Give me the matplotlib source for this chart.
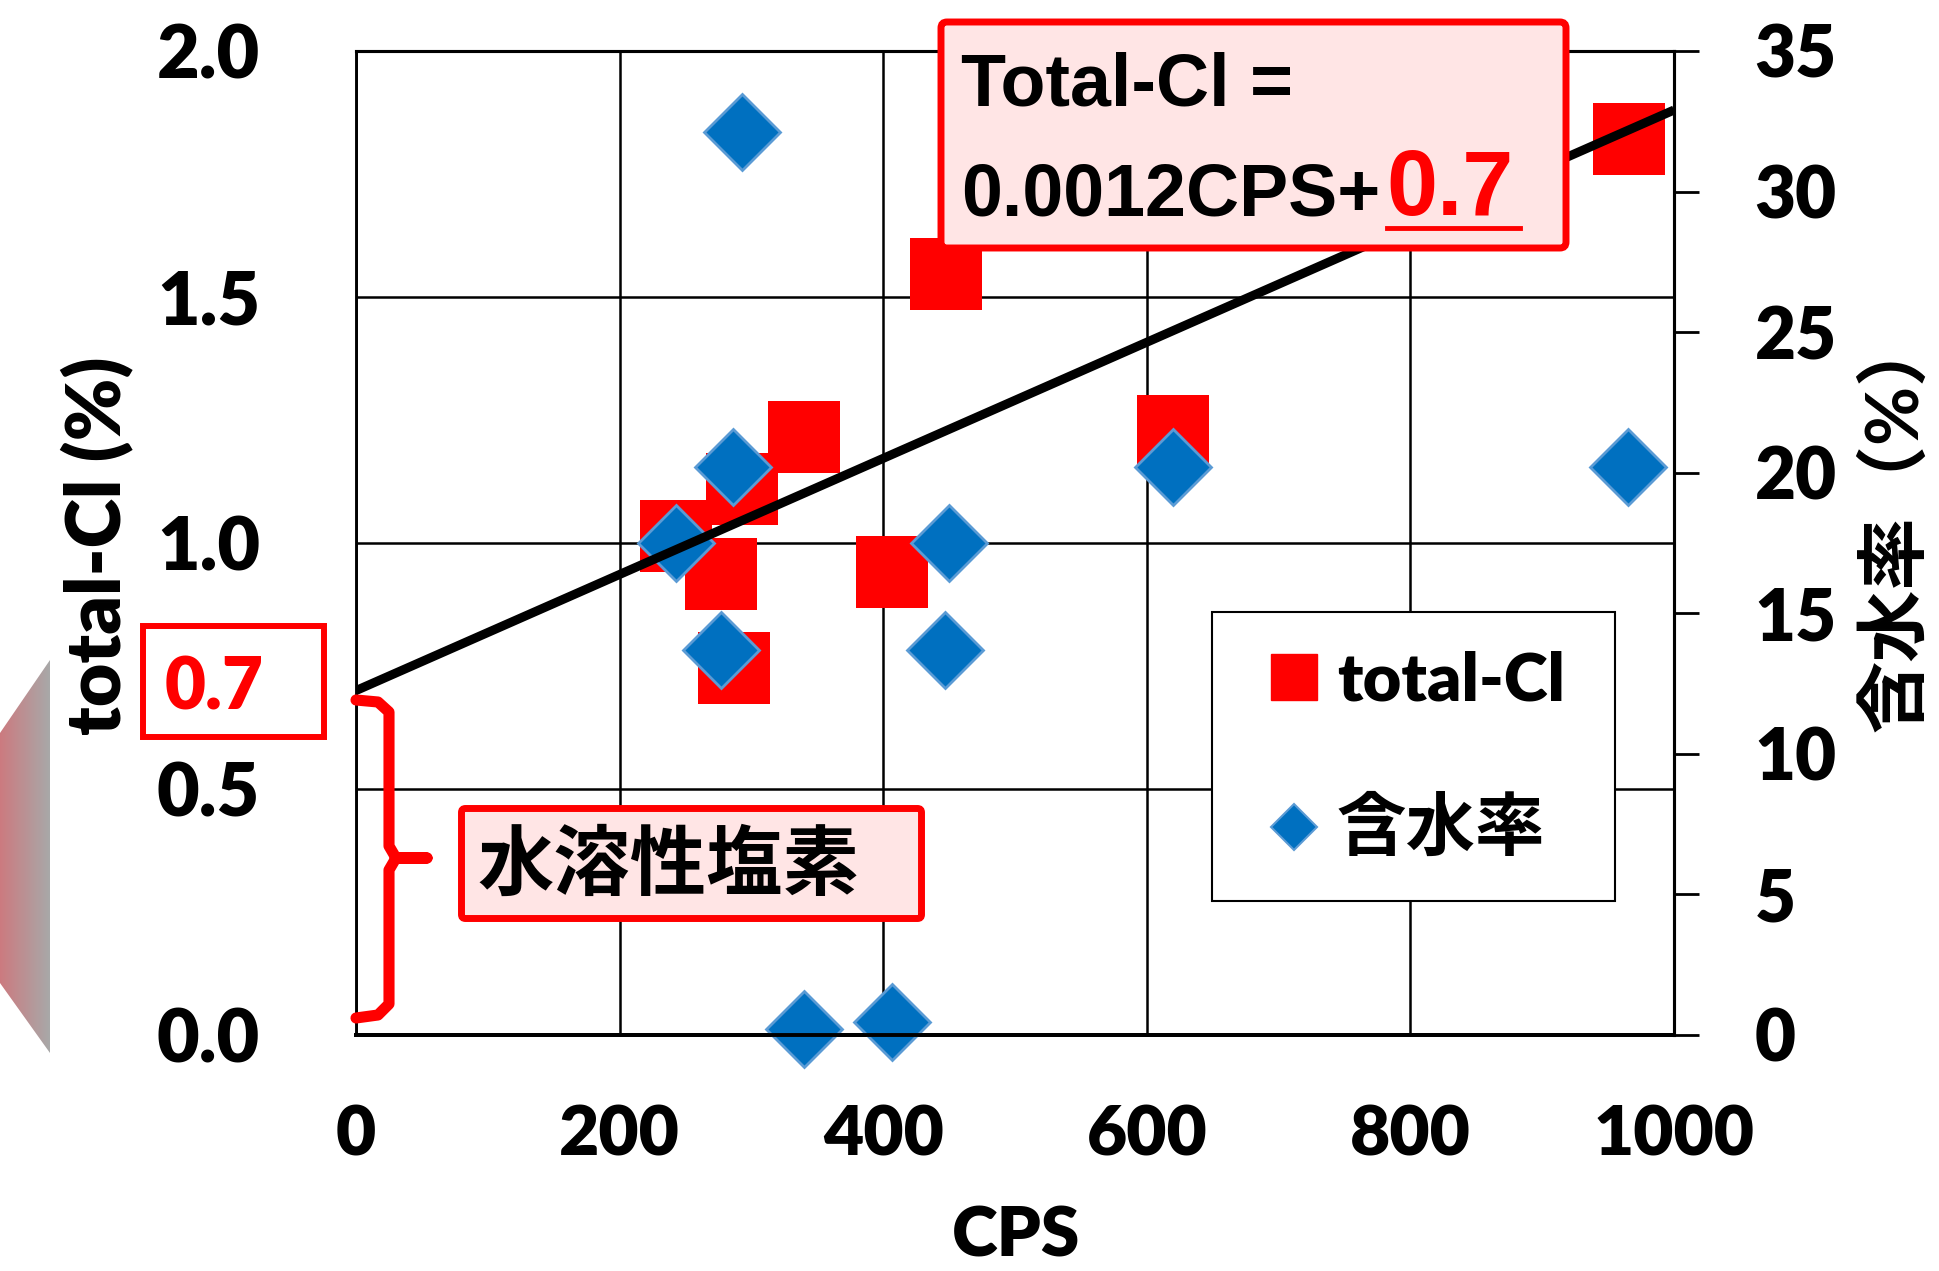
import numpy as np
import matplotlib
matplotlib.use("Agg")
import matplotlib.pyplot as plt
from matplotlib.patches import Rectangle, Polygon, FancyBboxPatch
from matplotlib.lines import Line2D
from matplotlib.transforms import blended_transform_factory

plt.rcParams['font.family'] = ['Lato', 'Noto Sans CJK JP']
plt.rcParams['font.weight'] = 'heavy'

# total-Cl (%) vs CPS
cl_cps = [243, 277, 287, 293, 340, 407, 448, 620, 966]
cl_val = [1.015, 0.936, 0.745, 1.11, 1.216, 0.942, 1.546, 1.228, 1.821]

# 含水率 (%) vs CPS
mw_cps = [243, 277, 286, 293, 340, 407, 447, 450, 620, 965]
mw_val = [17.5, 13.7, 20.2, 32.1, 0.2, 0.45, 13.7, 17.5, 20.2, 20.2]

# regression line  Total-Cl = 0.0012CPS + 0.7
fit_cps = [0, 1000]
fit_val = [0.70, 1.88]

x_ticks = [0, 200, 400, 600, 800, 1000]
left_ticks = [0.0, 0.5, 1.0, 1.5, 2.0]
right_ticks = [0, 5, 10, 15, 20, 25, 30, 35]

RED = '#FF0000'
BLUE = '#0070C0'
BLUE_EDGE = '#5B9BD5'
PINK = '#FFE5E5'

fig = plt.figure(figsize=(19.4, 12.71), dpi=100)
ax = fig.add_axes([0.1835, 0.1857, 0.6794, 0.7742])
ax2 = ax.twinx()

ax.set_xlim(0, 1000)
ax.set_ylim(0, 2.0)
ax2.set_ylim(0, 35)

# squares, then diamonds (placed on the right-hand scale), then the fit line
ax.scatter(cl_cps, cl_val, marker='s', s=52 ** 2, c=RED, linewidths=0, zorder=3)
mw_trans = blended_transform_factory(ax.transData, ax2.transData)
ax.plot(mw_cps, mw_val, 'D', ms=39, mfc=BLUE, mec=BLUE_EDGE, mew=2,
        ls='none', transform=mw_trans, clip_on=False, zorder=4)
ax.plot(fit_cps, fit_val, color='black', lw=6.5, zorder=5, solid_capstyle='butt')

ax.set_xlim(0, 1000)
ax.set_ylim(0, 2.0)

ax.set_xticks(x_ticks)
ax.set_xticklabels([str(v) for v in x_ticks])
ax.set_yticks(left_ticks)
ax.set_yticklabels([f'{v:.1f}' for v in left_ticks])
ax.tick_params(axis='x', length=0, pad=50, labelsize=50)
ax.tick_params(axis='y', length=0, pad=69, labelsize=53)
ax.grid(True, color='black', lw=1.8)
ax.set_axisbelow(True)

ax2.set_yticks(right_ticks)
ax2.set_yticklabels([str(v) for v in right_ticks])
ax2.tick_params(axis='y', direction='out', length=18, width=2, pad=40, labelsize=51)

for a in (ax, ax2):
    a.spines['left'].set_linewidth(1.8)
    a.spines['top'].set_linewidth(2.2)
    a.spines['right'].set_linewidth(2.2)
    a.spines['bottom'].set_linewidth(2.8)

handles = [
    Line2D([], [], marker='s', ms=33, color=RED, ls='none'),
    Line2D([], [], marker='D', ms=23, mfc=BLUE, mec=BLUE_EDGE, mew=1.5, ls='none'),
]
leg = ax.legend(handles, ['total-Cl', '含水率'], loc='upper left',
                bbox_to_anchor=(0.6495, 0.143, 0.3055, 0.287), mode='expand',
                borderaxespad=0, borderpad=0.58, labelspacing=1.28,
                handlelength=1.29, handletextpad=0.0, fancybox=False,
                framealpha=1, edgecolor='black',
                prop=dict(family=['Lato', 'Noto Sans CJK JP'], weight='heavy', size=48))
leg.get_frame().set_linewidth(1.5)
leg.get_texts()[1].set_fontweight('bold')
leg.get_texts()[1].set_fontsize(50)

fig.text(1016 / 1940, 1 - 1237 / 1271, 'CPS', ha='center', va='center', fontsize=50)
fig.text(97 / 1940, 1 - 546 / 1271, 'total-Cl (%)', ha='center', va='center',
         rotation=90, fontsize=54)
fig.text(1896 / 1940, 1 - 522 / 1271, '含水率（%）', ha='center', va='center',
         rotation=90, fontsize=52, fontweight='bold')

# overlay in pixel units for the callouts
ov = fig.add_axes([0, 0, 1, 1], zorder=3)
ov.patch.set_visible(False)

grad = np.linspace(0, 1, 64)[None, :, None]
c0 = np.array([0.80, 0.48, 0.50])
c1 = np.array([0.66, 0.66, 0.66])
img = c0 + (c1 - c0) * grad
im = ov.imshow(img, extent=(0, 50, 1053, 660), aspect='auto', interpolation='bilinear')
shape = Polygon([(0, 733), (50, 660), (50, 1053), (0, 983)], closed=True,
                transform=ov.transData)
im.set_clip_path(shape)

# equation box
ov.add_patch(FancyBboxPatch((941, 22), 625, 226, boxstyle='round,pad=0,rounding_size=6',
                            fc=PINK, ec=RED, lw=5))
ov.text(961, 106, 'Total-Cl =', ha='left', va='baseline', family='Liberation Sans',
        weight='bold', fontsize=53)
ov.text(961, 215, '0.0012CPS+', ha='left', va='baseline', family='Liberation Sans',
        weight='bold', fontsize=53)
ov.text(1386, 215, '0.7', ha='left', va='baseline', family='Liberation Sans',
        weight='bold', fontsize=66, color=RED)
ov.plot([1387, 1520], [228, 228], color=RED, lw=3.5)

# intercept box
ov.add_patch(Rectangle((143, 626), 181, 111, fc='white', ec=RED, lw=4.3))
ov.text(214, 710, '0.7', ha='center', va='baseline', color=RED, fontsize=51)

# bracket
ov.plot([356, 378, 389, 389, 396, 427, 396, 389, 389, 378, 356],
        [700, 702, 712, 846, 858, 858, 858, 870, 1004, 1015, 1018],
        color=RED, lw=8, solid_joinstyle='round', solid_capstyle='round')

# water-soluble chloride box
ov.add_patch(FancyBboxPatch((461.5, 808.5), 460, 110, boxstyle='round,pad=0,rounding_size=4',
                            fc=PINK, ec=RED, lw=5))
ov.text(668, 866, '水溶性塩素', ha='center', va='center', fontsize=55, fontweight='bold')

ov.set_xlim(0, 1940)
ov.set_ylim(1271, 0)
ov.axis('off')

fig.savefig('out.png', dpi=100)
